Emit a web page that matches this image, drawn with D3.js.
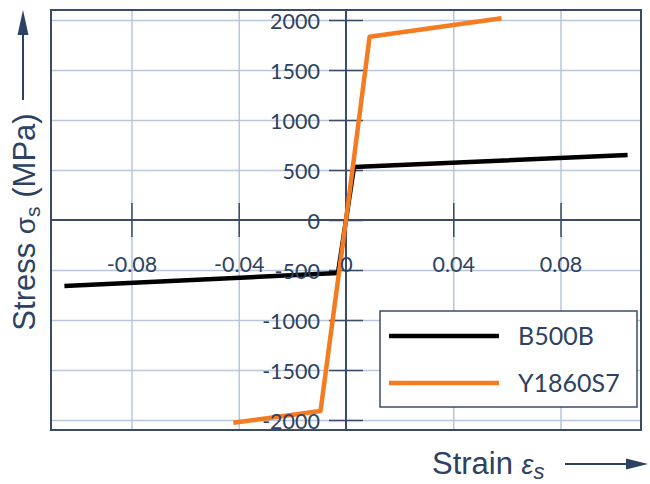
<!DOCTYPE html>
<html>
<head>
<meta charset="utf-8">
<script src="https://cdn.jsdelivr.net/npm/d3@7"></script>
<style>
  html, body { margin: 0; padding: 0; background: #fff; }
  svg { display: block; }
</style>
</head>
<body>
<svg id="chart" width="650" height="484"></svg>
<script>
// Stress-strain design curves for reinforcing steel and prestressing strand
const seriesNames = ["B500B", "Y1860S7"];
const b500bStrain = [-0.105, -0.003, 0, 0.003, 0.105];
const b500bStress = [-660, -530, 0, 530, 650];
const y1860Strain = [-0.042, -0.0095, 0, 0.0088, 0.058];
const y1860Stress = [-2027, -1910, 0, 1833, 2017];
const xTicks = [-0.08, -0.04, 0, 0.04, 0.08];
const xTickLabels = ["-0.08", "-0.04", "0", "0.04", "0.08"];
const yTicks = [-2000, -1500, -1000, -500, 0, 500, 1000, 1500, 2000];
const yTickLabels = ["-2000", "-1500", "-1000", "-500", "0", "500", "1000", "1500", "2000"];

const navy = "#2d4262";
const frameColor = "#3a4b68";
const gridColor = "#b9c6d9";
const colors = ["#000000", "#f47b20"];

const svg = d3.select("#chart");
const L = 51, R = 641, T = 10, B = 430;

const x = d3.scaleLinear().domain([-0.11, 0.11]).range([L, R]);
const y = d3.scaleLinear().domain([-2100, 2100]).range([B, T]);

// grid
svg.append("g")
  .attr("transform", `translate(0,${B})`)
  .call(d3.axisBottom(x).tickValues(xTicks.filter(d => d !== 0)).tickSize(-(B - T)).tickFormat(""))
  .call(g => g.select(".domain").remove())
  .call(g => g.selectAll("line").attr("stroke", gridColor).attr("stroke-width", 1.5));
svg.append("g")
  .attr("transform", `translate(${L},0)`)
  .call(d3.axisLeft(y).tickValues(yTicks.filter(d => d !== 0)).tickSize(-(R - L)).tickFormat(""))
  .call(g => g.select(".domain").remove())
  .call(g => g.selectAll("line").attr("stroke", gridColor).attr("stroke-width", 1.5));

// zero axes
svg.append("line").attr("x1", L).attr("x2", R).attr("y1", y(0)).attr("y2", y(0))
  .attr("stroke", frameColor).attr("stroke-width", 2);
svg.append("line").attr("x1", x(0)).attr("x2", x(0)).attr("y1", T).attr("y2", B)
  .attr("stroke", frameColor).attr("stroke-width", 2);

// crossing tick marks
const tickHalf = 17;
svg.append("g")
  .attr("transform", `translate(0,${y(0) - tickHalf})`)
  .call(d3.axisBottom(x).tickValues(xTicks.filter(d => d !== 0)).tickSize(tickHalf * 2).tickFormat(""))
  .call(g => g.select(".domain").remove())
  .call(g => g.selectAll("line").attr("stroke", frameColor).attr("stroke-width", 1.5));
svg.append("g")
  .attr("transform", `translate(${x(0) + tickHalf},0)`)
  .call(d3.axisLeft(y).tickValues(yTicks).tickSize(tickHalf * 2).tickFormat(""))
  .call(g => g.select(".domain").remove())
  .call(g => g.selectAll("line").attr("stroke", frameColor).attr("stroke-width", 1.5));

// frame
svg.append("rect").attr("x", L).attr("y", T).attr("width", R - L).attr("height", B - T)
  .attr("fill", "none").attr("stroke", frameColor).attr("stroke-width", 2);

// curves
const line = d3.line().x(d => x(d[0])).y(d => y(d[1]));
const curves = [
  d3.zip(b500bStrain, b500bStress),
  d3.zip(y1860Strain, y1860Stress)
];
svg.append("g").selectAll("path").data(curves).join("path")
  .attr("d", line)
  .attr("fill", "none")
  .attr("stroke", (d, i) => colors[i])
  .attr("stroke-width", 4.5)
  .attr("stroke-linejoin", "round");

// tick labels
const tickFont = "Lato, 'Open Sans', sans-serif";
svg.append("g")
  .attr("transform", `translate(0,${y(0)})`)
  .call(d3.axisBottom(x).tickValues(xTicks).tickSize(0).tickPadding(37)
    .tickFormat((d, i) => xTickLabels[i]))
  .call(g => g.select(".domain").remove())
  .call(g => g.selectAll("text").attr("fill", navy).attr("font-size", 21.5).attr("font-family", tickFont));
svg.append("g")
  .attr("transform", `translate(${x(0)},0)`)
  .call(d3.axisLeft(y).tickValues(yTicks).tickSize(0).tickPadding(26)
    .tickFormat((d, i) => yTickLabels[i]))
  .call(g => g.select(".domain").remove())
  .call(g => g.selectAll("text").attr("fill", navy).attr("font-size", 21.5).attr("font-family", tickFont).attr("dy", "0.38em"));

// legend
const lg = svg.append("g");
lg.append("rect").attr("x", 380).attr("y", 311).attr("width", 257).attr("height", 96)
  .attr("fill", "#fff").attr("stroke", frameColor).attr("stroke-width", 1.5);
seriesNames.forEach((name, i) => {
  const ly = 336 + i * 47;
  lg.append("line").attr("x1", 389).attr("x2", 499).attr("y1", ly).attr("y2", ly)
    .attr("stroke", colors[i]).attr("stroke-width", 4.5);
  lg.append("text").attr("x", 518).attr("y", ly + 9).text(name)
    .attr("fill", navy).attr("font-size", 25).attr("font-family", tickFont);
});

// axis titles
const titleFont = "'Liberation Sans', Arial, sans-serif";
const yt = svg.append("text")
  .attr("transform", "translate(35,222) rotate(-90)")
  .attr("text-anchor", "middle")
  .attr("fill", navy).attr("font-size", 31).attr("font-family", titleFont);
yt.append("tspan").text("Stress ");
yt.append("tspan").text("σ").attr("font-size", 28);
yt.append("tspan").text("s").attr("font-size", 21).attr("dy", 5);
yt.append("tspan").text(" (MPa)").attr("dy", -5);

const xt = svg.append("text")
  .attr("x", 432).attr("y", 474)
  .attr("fill", navy).attr("font-size", 31).attr("font-family", titleFont);
xt.append("tspan").text("Strain ");
xt.append("tspan").text("ε").attr("font-style", "italic").attr("font-size", 27);
xt.append("tspan").text("s").attr("font-style", "italic").attr("font-size", 22).attr("dy", 5);

// axis arrows
svg.append("line").attr("x1", 23).attr("x2", 23).attr("y1", 100).attr("y2", 30)
  .attr("stroke", navy).attr("stroke-width", 2);
svg.append("path").attr("d", "M23,10 L28.5,35 L17.5,35 Z").attr("fill", navy);
svg.append("line").attr("x1", 565).attr("x2", 630).attr("y1", 464).attr("y2", 464)
  .attr("stroke", navy).attr("stroke-width", 2);
svg.append("path").attr("d", "M648,464 L626,458.5 L626,469.5 Z").attr("fill", navy);
</script>
</body>
</html>
